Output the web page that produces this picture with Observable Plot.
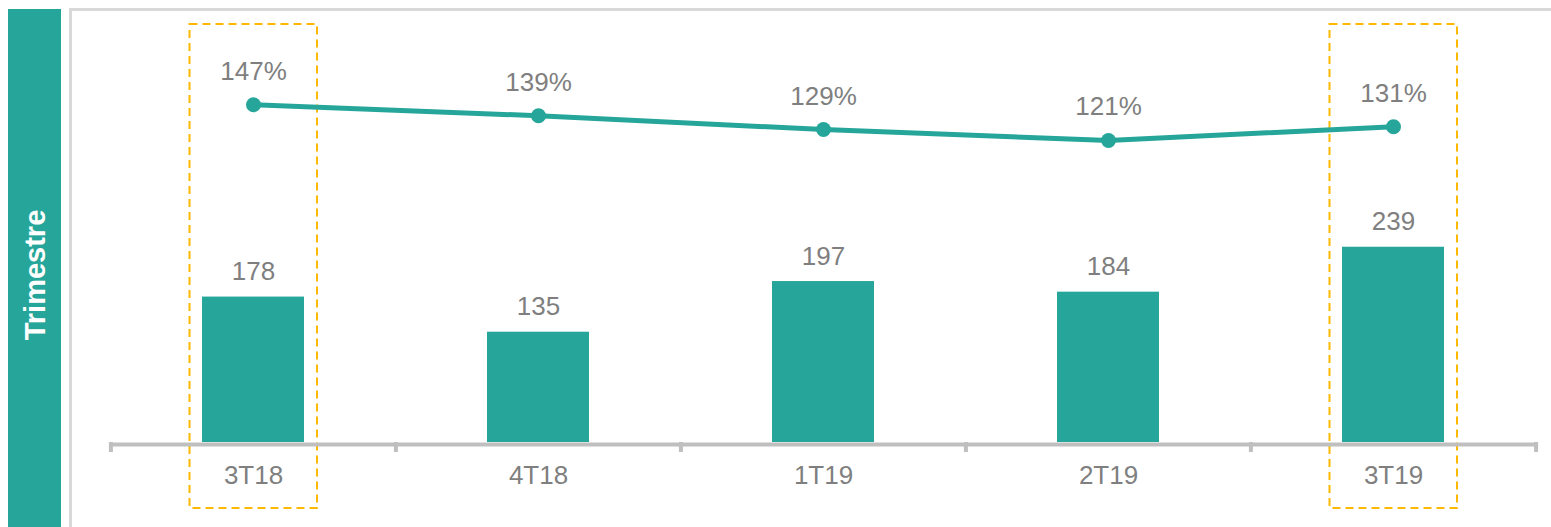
<!DOCTYPE html>
<html>
<head>
<meta charset="utf-8">
<script src="https://cdn.jsdelivr.net/npm/d3@7"></script>
<script src="https://cdn.jsdelivr.net/npm/@observablehq/plot@0.6"></script>
<style>
  html, body { margin: 0; padding: 0; background: #ffffff; }
  #wrap { position: relative; width: 1551px; height: 527px; overflow: hidden; background: #ffffff; font-family: "Liberation Sans", Arial, sans-serif; }
  #strip { position: absolute; left: 8px; top: 9px; width: 53px; height: 530px; background: #26A69A; }
  #stripLabel { position: absolute; left: 35px; top: 275px; transform: translate(-50%, -50%) rotate(-90deg); color: #ffffff; font-weight: bold; font-size: 29px; white-space: nowrap; line-height: 1; }
  #frame { position: absolute; left: 69px; top: 8px; width: 1600px; height: 600px; border-left: 3px solid #d9d9d9; border-top: 3px solid #d9d9d9; box-sizing: border-box; }
  #chart { position: absolute; left: 0; top: 0; }
</style>
</head>
<body>
<div id="wrap">
  <div id="strip"></div>
  <div id="stripLabel">Trimestre</div>
  <div id="frame"></div>
  <div id="chart"></div>
</div>
<script>
// Data
const categories = ["3T18", "4T18", "1T19", "2T19", "3T19"];
const barValues = [178, 135, 197, 184, 239];
const lineValues = [147, 139, 129, 121, 131]; // percent
const highlighted = ["3T18", "3T19"];

const teal = "#26A69A";
const grey = "#7F7F7F";
const axisGrey = "#BFBFBF";
const gold = "#FFB800";

// Secondary (percent) axis mapped onto the primary bar axis
const pctToY = v => 166.3 + 1.6806 * v;

const rows = categories.map((c, i) => ({cat: c, bar: barValues[i], pct: lineValues[i], py: pctToY(lineValues[i])}));
const last = categories[categories.length - 1];
const step = 1426 / categories.length;

const chart = Plot.plot({
  width: 1551,
  height: 527,
  marginLeft: 110,
  marginRight: 15,
  marginTop: 33.5,
  marginBottom: 85,
  style: {background: "transparent", fontFamily: "'Liberation Sans', Arial, sans-serif", overflow: "visible"},
  x: {domain: categories, paddingInner: 0.6424, paddingOuter: 0.3212, axis: null},
  y: {domain: [0, 500], axis: null},
  marks: [
    // highlight boxes
    Plot.barY(highlighted, {x: d => d, y1: -80.8, y2: 511.6, fill: "none", stroke: gold, strokeWidth: 2, strokeDasharray: "8,5", insetLeft: -12.5, insetRight: -13}),
    // bars
    Plot.barY(rows, {x: "cat", y: "bar", fill: teal}),
    // axis line
    Plot.ruleY([0], {stroke: axisGrey, strokeWidth: 4, dy: 2}),
    // ticks at band boundaries
    Plot.ruleX(categories, {x: d => d, y1: 0, y2: -12.2, dx: -step / 2, stroke: axisGrey, strokeWidth: 4}),
    Plot.ruleX([last], {x: d => d, y1: 0, y2: -12.2, dx: step / 2, stroke: axisGrey, strokeWidth: 4}),
    // category labels
    Plot.text(categories, {x: d => d, y: 0, dy: 41, lineAnchor: "bottom", text: d => d, fill: grey, fontSize: 26}),
    // bar labels
    Plot.text(rows, {x: "cat", y: "bar", dy: -17, lineAnchor: "bottom", text: d => String(d.bar), fill: grey, fontSize: 26}),
    // line
    Plot.line(rows, {x: "cat", y: "py", stroke: teal, strokeWidth: 5}),
    Plot.dot(rows, {x: "cat", y: "py", r: 7.5, fill: teal, stroke: "none"}),
    Plot.text(rows, {x: "cat", y: "py", dy: -25, lineAnchor: "bottom", text: d => d.pct + "%", fill: grey, fontSize: 26})
  ]
});
document.getElementById("chart").appendChild(chart);
</script>
</body>
</html>
